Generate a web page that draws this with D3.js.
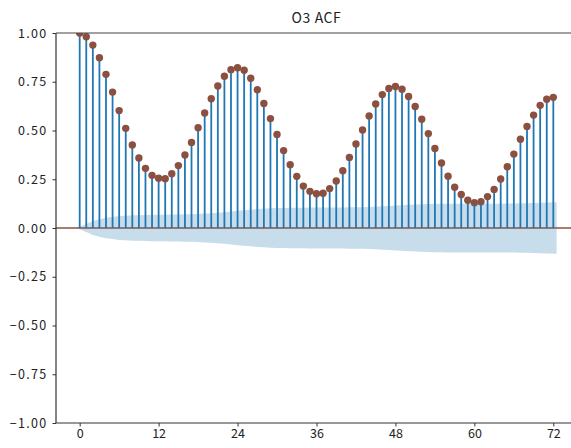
<!DOCTYPE html>
<html>
<head>
<meta charset="utf-8">
<script src="https://cdn.jsdelivr.net/npm/d3@7"></script>
<style>
  body { margin: 0; background: #fff; }
  text { font-family: "Noto Sans CJK SC", "DejaVu Sans", sans-serif; fill: #222; }
</style>
</head>
<body>
<div id="chart"></div>
<script>
// acf values, lag 0..72
var acfValues = [1.000, 0.981, 0.938, 0.873, 0.788, 0.697, 0.602, 0.511, 0.426, 0.359,
    0.306, 0.270, 0.255, 0.253, 0.278, 0.320, 0.374, 0.439, 0.514, 0.590,
    0.663, 0.728, 0.778, 0.812, 0.822, 0.809, 0.768, 0.709, 0.639, 0.561,
    0.480, 0.397, 0.325, 0.265, 0.215, 0.188, 0.176, 0.178, 0.202, 0.241,
    0.294, 0.362, 0.431, 0.503, 0.575, 0.636, 0.684, 0.716, 0.726, 0.712,
    0.675, 0.623, 0.558, 0.484, 0.408, 0.333, 0.266, 0.209, 0.172, 0.142,
    0.130, 0.135, 0.161, 0.198, 0.251, 0.314, 0.379, 0.455, 0.521, 0.579,
    0.629, 0.660, 0.670]

// half width of the confidence band, lag 0..72
var bandValues = [0.000, 0.021, 0.036, 0.045, 0.052, 0.057, 0.061, 0.063, 0.065, 0.066,
    0.067, 0.068, 0.068, 0.068, 0.069, 0.069, 0.070, 0.071, 0.072, 0.074,
    0.076, 0.078, 0.081, 0.084, 0.088, 0.091, 0.094, 0.097, 0.099, 0.101,
    0.102, 0.103, 0.104, 0.104, 0.104, 0.105, 0.105, 0.105, 0.105, 0.105,
    0.105, 0.106, 0.106, 0.107, 0.108, 0.109, 0.111, 0.113, 0.115, 0.117,
    0.119, 0.120, 0.122, 0.123, 0.124, 0.124, 0.125, 0.125, 0.125, 0.125,
    0.125, 0.125, 0.125, 0.125, 0.125, 0.126, 0.126, 0.127, 0.127, 0.128,
    0.129, 0.131, 0.132]

var xTicks = [0, 12, 24, 36, 48, 60, 72]
var yTicks = [-1.00, -0.75, -0.50, -0.25, 0.00, 0.25, 0.50, 0.75, 1.00]

var W = 571, H = 448
var margin = {left: 56, right: 577, top: 33, bottom: 423}

var svg = d3.select("#chart").append("svg")
    .attr("width", W)
    .attr("height", H)

var x = d3.scaleLinear().domain([-3.6, 75.6]).range([margin.left, margin.right])
var y = d3.scaleLinear().domain([-1, 1]).range([margin.bottom, margin.top])

svg.append("defs").append("clipPath").attr("id", "clip")
  .append("rect")
    .attr("x", margin.left).attr("y", margin.top)
    .attr("width", margin.right - margin.left).attr("height", margin.bottom - margin.top)

var plot = svg.append("g").attr("clip-path", "url(#clip)")

var lags = acfValues.map(function(d, i) { return i })

// stems
plot.selectAll(".stem")
    .data(acfValues)
    .enter()
    .append("line")
    .attr("class", "stem")
    .attr("x1", function(d, i) { return x(i) })
    .attr("x2", function(d, i) { return x(i) })
    .attr("y1", y(0))
    .attr("y2", function(d) { return y(d) })
    .attr("stroke", "#1f77b4")
    .attr("stroke-width", 1.8)

// zero line
plot.append("line")
    .attr("x1", margin.left).attr("x2", margin.right)
    .attr("y1", y(0)).attr("y2", y(0))
    .attr("stroke", "#8c5040")
    .attr("stroke-width", 1.5)

// markers
plot.selectAll(".dot")
    .data(acfValues)
    .enter()
    .append("circle")
    .attr("class", "dot")
    .attr("cx", function(d, i) { return x(i) })
    .attr("cy", function(d) { return y(d) })
    .attr("r", 3.7)
    .attr("fill", "#8c5040")

// confidence band, first and last lag pushed out by half a step like statsmodels
var bandLags = lags.slice()
bandLags[0] -= 0.5
bandLags[bandLags.length - 1] += 0.5

var area = d3.area()
    .x(function(d, i) { return x(bandLags[i]) })
    .y0(function(d) { return y(-d) })
    .y1(function(d) { return y(d) })

plot.append("path")
    .datum(bandValues)
    .attr("d", area)
    .attr("fill", "#1f77b4")
    .attr("fill-opacity", 0.25)

// axes
var yAxis = svg.append("g")
    .attr("transform", "translate(" + margin.left + ",0)")
    .call(d3.axisLeft(y).tickValues(yTicks).tickSize(3.5).tickPadding(5)
        .tickFormat(function(d) { return d3.format(".2f")(d).replace("-", "\u2212") }))
yAxis.select(".domain").remove()
yAxis.selectAll("text").style("font-size", "12.5px").style("letter-spacing", "1.3px")
yAxis.selectAll("line").attr("stroke", "#333")

var xAxis = svg.append("g")
    .attr("transform", "translate(0," + margin.bottom + ")")
    .call(d3.axisBottom(x).tickValues(xTicks).tickSize(3.5).tickPadding(3))
xAxis.select(".domain").remove()
xAxis.selectAll("text").style("font-size", "12.5px")
xAxis.selectAll("line").attr("stroke", "#333")

// spines (right edge falls outside the picture)
svg.append("line").attr("x1", margin.left).attr("x2", margin.left)
    .attr("y1", margin.top).attr("y2", margin.bottom)
    .attr("stroke", "#333").attr("stroke-width", 1.2)
svg.append("line").attr("x1", margin.left).attr("x2", margin.right)
    .attr("y1", margin.top).attr("y2", margin.top)
    .attr("stroke", "#444").attr("stroke-width", 1.2)
svg.append("line").attr("x1", margin.left).attr("x2", margin.right)
    .attr("y1", margin.bottom).attr("y2", margin.bottom)
    .attr("stroke", "#333").attr("stroke-width", 1.2)

// title
svg.append("text")
    .attr("x", (margin.left + margin.right) / 2)
    .attr("y", 23)
    .attr("text-anchor", "middle")
    .style("font-size", "14px")
    .style("letter-spacing", "0.6px")
    .text("O3 ACF")
</script>
</body>
</html>
